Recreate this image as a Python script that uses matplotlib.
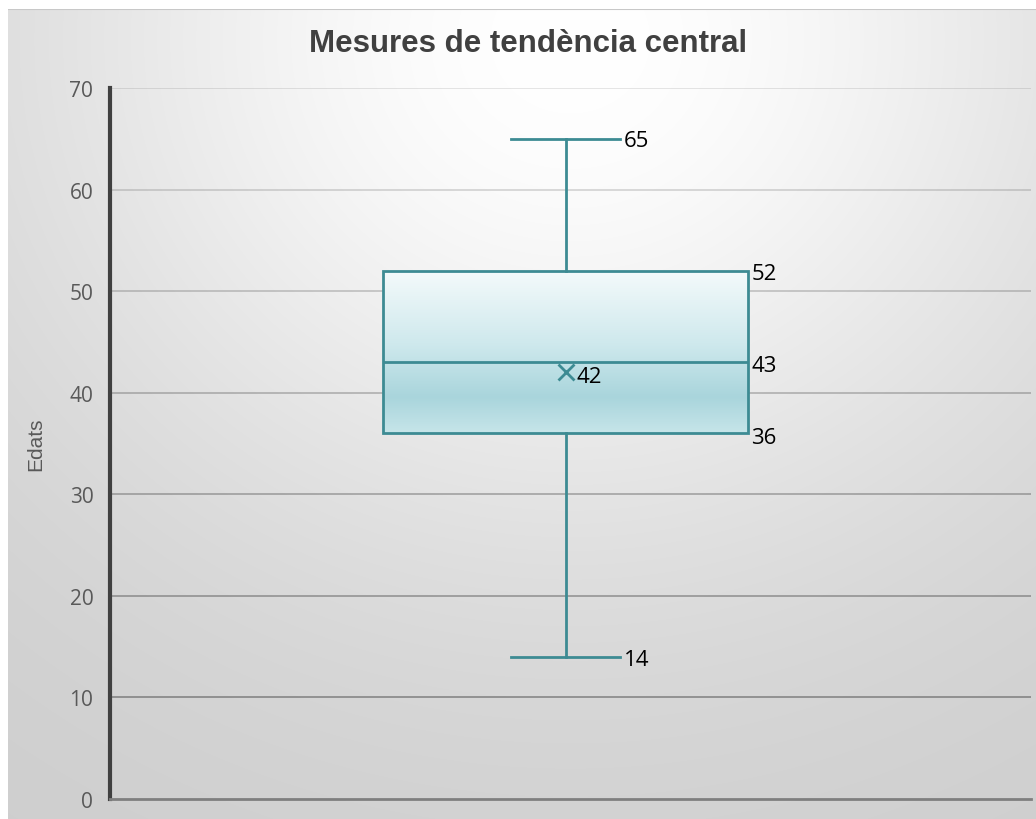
import numpy as np
import matplotlib
matplotlib.use("Agg")
import matplotlib.pyplot as plt
from matplotlib.colors import LinearSegmentedColormap

# dades del diagrama de caixa
etiqueta = "Edats"
whisker_baix = 14
q1 = 36
mediana = 43
q3 = 52
whisker_alt = 65
mitjana = 42

teal = "#3d8b93"
gris_text = "#595959"

fig = plt.figure(figsize=(10.36, 8.2), dpi=100)
fig.patch.set_facecolor("white")

# fons amb degradat radial (blanc al centre superior, gris a les vores)
bg = fig.add_axes([8 / 1036, 0, 1 - 8 / 1036, 1 - 10 / 820], zorder=-10)
h, w = 810, 1028
yy, xx = np.mgrid[0:h, 0:w]
dx = (xx - 562) / 560.0
dy = (yy - 30) / 520.0
r2 = dx ** 2 + dy ** 2
val = 255 - 50 * (1 - np.exp(-r2))
img = np.dstack([val, val, val]) / 255.0
bg.imshow(img, aspect="auto", extent=[0, 1, 0, 1], origin="upper")
bg.axhline(1, color="#c8c8c8", lw=1.5)
bg.set_xlim(0, 1)
bg.set_ylim(0, 1)
bg.axis("off")

ax = fig.add_axes([110 / 1036, 20 / 820, 921 / 1036, 711 / 820])
ax.set_facecolor("none")

stats = [dict(med=mediana, q1=q1, q3=q3, whislo=whisker_baix, whishi=whisker_alt,
              mean=mitjana, label="")]
pos = 0.4946
amp = 0.396
cap = 0.119
res = ax.bxp(stats, positions=[pos], widths=amp, patch_artist=True, showmeans=True,
             showfliers=False, capwidths=[cap],
             boxprops=dict(facecolor="none", edgecolor=teal, linewidth=2),
             medianprops=dict(color=teal, linewidth=2),
             whiskerprops=dict(color=teal, linewidth=2),
             capprops=dict(color=teal, linewidth=2),
             meanprops=dict(marker="x", markeredgecolor=teal, markersize=12,
                            markeredgewidth=2))
for art in res["boxes"] + res["medians"] + res["whiskers"] + res["caps"] + res["means"]:
    art.set_zorder(5)

# degradat dins la caixa
cmap = LinearSegmentedColormap.from_list(
    "caixa", [(0, "#f4fafb"), (0.45, "#cfe9ed"), (0.78, "#a9d5dc"), (1, "#c6e5e9")])
grad = np.linspace(0, 1, 256).reshape(-1, 1)
im = ax.imshow(grad, cmap=cmap, aspect="auto", origin="upper",
               extent=[pos - amp / 2, pos + amp / 2, q1, q3], zorder=3)
im.set_clip_path(res["boxes"][0])

ax.set_xlim(0, 1)
ax.set_ylim(0, 70)
ax.set_yticks(range(0, 71, 10))
ax.set_xticks([])

# línies de la quadrícula (més fosques cap avall)
for yv in range(10, 71, 10):
    a = 0.1 + 0.0036 * (70 - yv)
    ax.axhline(yv, color="black", alpha=a, lw=1.4, zorder=1)

for s in ["top", "right"]:
    ax.spines[s].set_visible(False)
ax.spines["left"].set_color("#404040")
ax.spines["left"].set_linewidth(3)
ax.spines["bottom"].set_color("#7f7f7f")
ax.spines["bottom"].set_linewidth(2)
ax.tick_params(axis="y", length=0, pad=12, labelsize=15, labelcolor=gris_text)
for t in ax.get_yticklabels():
    t.set_fontfamily("Open Sans")

fig.text(36 / 1036, 1 - 444 / 820, etiqueta, rotation=90, ha="center", va="center",
         fontsize=15, color=gris_text, family="Liberation Sans")

# etiquetes de valor
kw = dict(fontsize=16, color="black", family="Open Sans", va="center", ha="left",
          textcoords="offset points", zorder=6)
xc = pos + cap / 2
xb = pos + amp / 2
ax.annotate(str(whisker_alt), (xc, whisker_alt), xytext=(2.5, -1), **kw)
ax.annotate(str(whisker_baix), (xc, whisker_baix), xytext=(2.5, -2), **kw)
ax.annotate(str(q3), (xb, q3), xytext=(2.5, -2), **kw)
ax.annotate(str(mediana), (xb, mediana), xytext=(2.5, -2), **kw)
ax.annotate(str(q1), (xb, q1), xytext=(2.5, -3), **kw)
ax.annotate(str(mitjana), (pos, mitjana), xytext=(8, -3), **kw)

fig.text(528 / 1036, 1 - 44 / 820, "Mesures de tendència central", ha="center", va="center",
         fontsize=22.5, fontweight="bold", color="#404040", family="Liberation Sans")

fig.savefig("out.png", dpi=100)
